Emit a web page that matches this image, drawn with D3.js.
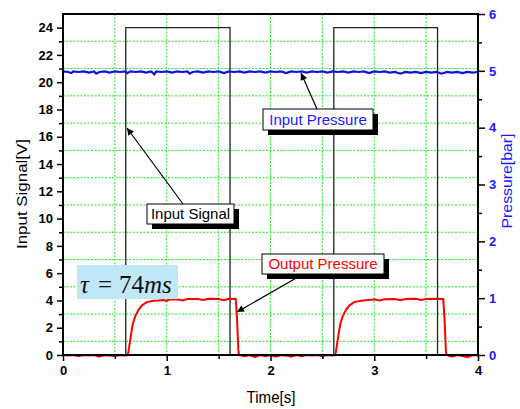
<!DOCTYPE html>
<html lang="en">
<head>
<meta charset="utf-8">
<title>Input signal / pressure response</title>
<script src="https://d3js.org/d3.v7.min.js"></script>
<style>
  body { margin: 0; background: #fff; }
  text { font-family: "Liberation Sans", Arial, sans-serif; }
</style>
</head>
<body>
<div class="chart"></div>
<script>
// ---- data ----
var timeTicks = [0, 1, 2, 3, 4];
var leftTicks = [0, 2, 4, 6, 8, 10, 12, 14, 16, 18, 20, 22, 24];
var rightTicks = [0, 1, 2, 3, 4, 5, 6];

// input signal [s, V]
var inputSignal = [[0, 0], [0.605, 0], [0.605, 24], [1.61, 24], [1.61, 0],
  [2.61, 0], [2.61, 24], [3.61, 24], [3.61, 0], [4, 0]];

// input pressure [s, bar]
var inputPressure = [[0,4.99],[0.05,4.98],[0.08,4.96],[0.1,4.99],[0.15,4.98],[0.2,4.99],[0.25,4.97],[0.3,4.99],
  [0.32,4.95],[0.35,4.98],[0.4,4.99],[0.45,4.97],[0.5,4.99],[0.55,4.98],[0.6,4.99],[0.62,4.96],[0.65,4.99],
  [0.7,4.98],[0.75,4.99],[0.8,4.97],[0.85,4.99],[0.88,4.94],[0.9,4.99],[0.95,4.98],[1.0,4.99],[1.05,4.97],
  [1.1,4.99],[1.15,4.98],[1.2,4.99],[1.22,4.95],[1.25,4.98],[1.3,4.99],[1.35,4.97],[1.4,4.99],[1.45,4.98],
  [1.5,4.99],[1.55,4.96],[1.6,4.99],[1.65,4.98],[1.7,4.99],[1.75,4.97],[1.8,4.99],[1.85,4.98],[1.9,4.99],
  [1.95,4.97],[2.0,4.99],[2.05,4.98],[2.1,4.99],[2.15,4.96],[2.2,4.99],[2.25,4.98],[2.3,4.99],[2.35,4.97],
  [2.4,4.99],[2.45,4.98],[2.5,4.99],[2.55,4.97],[2.6,4.99],[2.65,4.98],[2.7,4.99],[2.75,4.97],[2.8,4.99],
  [2.85,4.98],[2.9,4.99],[2.95,4.96],[3.0,4.99],[3.05,4.98],[3.1,4.99],[3.15,4.97],[3.2,4.98],[3.25,4.95],
  [3.3,4.98],[3.35,4.97],[3.4,4.98],[3.45,4.96],[3.5,4.98],[3.55,4.97],[3.6,4.98],[3.65,4.95],[3.7,4.98],
  [3.75,4.97],[3.8,4.98],[3.85,4.96],[3.9,4.98],[3.95,4.97],[4.0,4.98]];

// output pressure [s, bar]
var outputPressure = [[0,0],[0.05,-0.01],[0.1,0],[0.15,-0.02],[0.2,0],[0.25,-0.01],[0.3,0],[0.35,-0.03],
  [0.4,0],[0.45,-0.01],[0.5,-0.02],[0.55,0],[0.6,-0.01],[0.625,0],
  [0.636,0.12],[0.655,0.35],[0.672,0.54],[0.694,0.67],[0.726,0.79],[0.759,0.87],[0.807,0.93],[0.87,0.955],
  [0.92,0.96],[0.967,0.968],[1.0,0.95],[1.02,0.975],[1.1,0.98],[1.15,0.96],[1.2,0.985],[1.3,0.985],
  [1.35,0.97],[1.4,0.99],[1.5,0.985],[1.55,0.965],[1.6,0.99],[1.665,0.985],
  [1.677,0.645],[1.684,0.35],[1.69,0.09],[1.697,0],[1.75,-0.02],[1.8,0],[1.85,-0.04],[1.9,0],[1.95,-0.02],
  [2.0,0],[2.05,-0.03],[2.1,0],[2.15,-0.01],[2.2,-0.03],[2.25,0],[2.3,-0.02],[2.35,0],[2.4,-0.01],
  [2.45,0],[2.5,-0.02],[2.55,0],[2.6,-0.01],[2.625,0],
  [2.636,0.12],[2.655,0.35],[2.672,0.54],[2.694,0.67],[2.726,0.79],[2.759,0.87],[2.807,0.93],[2.87,0.955],
  [2.92,0.965],[2.967,0.97],[3.0,0.98],[3.05,0.96],[3.1,0.98],[3.2,0.985],[3.25,0.965],[3.3,0.985],
  [3.4,0.99],[3.45,0.97],[3.5,0.985],[3.6,0.99],[3.665,0.985],
  [3.677,0.645],[3.684,0.35],[3.69,0.09],[3.697,0],[3.75,-0.03],[3.8,0],[3.85,-0.02],[3.9,-0.04],
  [3.95,0],[4.0,-0.01]];

var width = 520, height = 409;
var plotLeft = 63, plotRight = 478, plotTop = 14, plotBottom = 355;

var svg = d3.select(".chart").append("svg")
  .attr("width", width)
  .attr("height", height);

var x = d3.scaleLinear().domain([0, 4]).range([plotLeft, plotRight]);
var yL = d3.scaleLinear().domain([0, 25]).range([plotBottom, plotTop]);
var yR = d3.scaleLinear().domain([0, 6]).range([plotBottom, plotTop]);

// grid
var gridV = [0.5, 1, 1.5, 2, 2.5, 3, 3.5];
var gridH = [1, 3, 5, 7, 9, 11, 13, 15, 17, 19, 21, 23];
var grid = svg.append("g")
  .attr("stroke", "#22e622")
  .attr("stroke-width", 1)
  .attr("stroke-dasharray", "2,1.5");
grid.selectAll(".gv").data(gridV).enter().append("line")
  .attr("x1", function(d) { return x(d); }).attr("x2", function(d) { return x(d); })
  .attr("y1", plotTop).attr("y2", plotBottom);
grid.selectAll(".gh").data(gridH).enter().append("line")
  .attr("y1", function(d) { return yL(d); }).attr("y2", function(d) { return yL(d); })
  .attr("x1", plotLeft).attr("x2", plotRight);

// series
var lineL = d3.line().x(function(d) { return x(d[0]); }).y(function(d) { return yL(d[1]); });
var lineR = d3.line().x(function(d) { return x(d[0]); }).y(function(d) { return yR(d[1]); });

svg.append("path").datum(inputSignal)
  .attr("d", lineL).attr("fill", "none")
  .attr("stroke", "#222").attr("stroke-width", 1.3);

svg.append("path").datum(inputPressure)
  .attr("d", lineR).attr("fill", "none")
  .attr("stroke", "#1010ee").attr("stroke-width", 2.2);

svg.append("path").datum(outputPressure)
  .attr("d", lineR).attr("fill", "none")
  .attr("stroke", "#ff0000").attr("stroke-width", 2);

// axes
function styleAxis(g, color) {
  g.select(".domain").remove();
  g.selectAll("line").attr("stroke", "#000").attr("stroke-width", 1.5);
  g.selectAll("text")
    .attr("fill", color)
    .style("font-size", "13px")
    .style("font-weight", "bold");
}

svg.append("g").attr("transform", "translate(0," + plotBottom + ")")
  .call(d3.axisBottom(x).tickValues([0.5, 1.5, 2.5, 3.5]).tickSize(4).tickFormat(""))
  .call(styleAxis, "#000");
svg.append("g").attr("transform", "translate(0," + plotBottom + ")")
  .call(d3.axisBottom(x).tickValues(timeTicks).tickSize(6).tickPadding(5).tickFormat(d3.format("d")))
  .call(styleAxis, "#000");

svg.append("g").attr("transform", "translate(" + plotLeft + ",0)")
  .call(d3.axisLeft(yL).tickValues(gridH).tickSize(4).tickFormat(""))
  .call(styleAxis, "#000");
svg.append("g").attr("transform", "translate(" + plotLeft + ",0)")
  .call(d3.axisLeft(yL).tickValues(leftTicks).tickSize(6).tickPadding(4).tickFormat(d3.format("d")))
  .call(styleAxis, "#000");

svg.append("g").attr("transform", "translate(" + plotRight + ",0)")
  .call(d3.axisRight(yR).tickValues([0.5, 1.5, 2.5, 3.5, 4.5, 5.5]).tickSize(4).tickFormat(""))
  .call(styleAxis, "#1a1aff");
svg.append("g").attr("transform", "translate(" + plotRight + ",0)")
  .call(d3.axisRight(yR).tickValues(rightTicks).tickSize(7).tickPadding(4).tickFormat(d3.format("d")))
  .call(styleAxis, "#1a1aff");

// frame
svg.append("rect")
  .attr("x", plotLeft).attr("y", plotTop)
  .attr("width", plotRight - plotLeft).attr("height", plotBottom - plotTop)
  .attr("fill", "none").attr("stroke", "#000").attr("stroke-width", 2);

// axis titles
svg.append("text")
  .attr("transform", "translate(27,194) rotate(-90)")
  .attr("text-anchor", "middle")
  .attr("textLength", 110).attr("lengthAdjust", "spacingAndGlyphs")
  .style("font-size", "15px")
  .text("Input Signal[V]");

svg.append("text")
  .attr("transform", "translate(512,181) rotate(-90)")
  .attr("text-anchor", "middle")
  .attr("fill", "#1a1aff")
  .attr("textLength", 95).attr("lengthAdjust", "spacingAndGlyphs")
  .style("font-size", "15px")
  .text("Pressure[bar]");

svg.append("text")
  .attr("x", 271).attr("y", 403)
  .attr("text-anchor", "middle")
  .attr("textLength", 49).attr("lengthAdjust", "spacingAndGlyphs")
  .style("font-size", "16px")
  .text("Time[s]");

// callouts
svg.append("defs").append("marker")
  .attr("id", "arrow")
  .attr("viewBox", "0 0 10 10")
  .attr("refX", 10).attr("refY", 5)
  .attr("markerWidth", 9).attr("markerHeight", 7)
  .attr("markerUnits", "userSpaceOnUse")
  .attr("orient", "auto")
  .append("path").attr("d", "M0,0L10,5L0,10z").attr("fill", "#000");

var callouts = [
  { label: "Input Signal", color: "#000", bx: 147, by: 204, bw: 87, bh: 20, from: [183, 204], to: [127, 128] },
  { label: "Input Pressure", color: "#1a1aff", bx: 263, by: 109, bw: 110, bh: 21, from: [317, 109], to: [301, 73] },
  { label: "Output Pressure", color: "#ff0000", bx: 262, by: 254, bw: 122, bh: 20, from: [298, 277], to: [237, 312] }
];

callouts.forEach(function(c) {
  svg.append("line")
    .attr("x1", c.from[0]).attr("y1", c.from[1])
    .attr("x2", c.to[0]).attr("y2", c.to[1])
    .attr("stroke", "#000").attr("stroke-width", 1.2)
    .attr("marker-end", "url(#arrow)");
  svg.append("rect")
    .attr("x", c.bx + 5).attr("y", c.by + 5)
    .attr("width", c.bw).attr("height", c.bh)
    .attr("fill", "#000");
  svg.append("rect")
    .attr("x", c.bx).attr("y", c.by)
    .attr("width", c.bw).attr("height", c.bh)
    .attr("fill", "#fff").attr("stroke", "#000").attr("stroke-width", 1);
  svg.append("text")
    .attr("x", c.bx + c.bw / 2).attr("y", c.by + c.bh - 5)
    .attr("text-anchor", "middle")
    .attr("fill", c.color)
    .style("font-size", "15px")
    .text(c.label);
});

// tau box
svg.append("rect")
  .attr("x", 77).attr("y", 265).attr("width", 101).attr("height", 34)
  .attr("fill", "#bfe7f6");
var tau = svg.append("text")
  .attr("y", 293)
  .style("font-family", "'Liberation Serif', 'Times New Roman', serif")
  .style("font-size", "25px")
  .attr("fill", "#111");
tau.append("tspan").attr("x", 80).style("font-style", "italic").text("\u03c4");
tau.append("tspan").attr("x", 98).text("=");
tau.append("tspan").attr("x", 119).text("74");
tau.append("tspan").attr("x", 144).style("font-style", "italic").text("ms");
</script>
</body>
</html>
